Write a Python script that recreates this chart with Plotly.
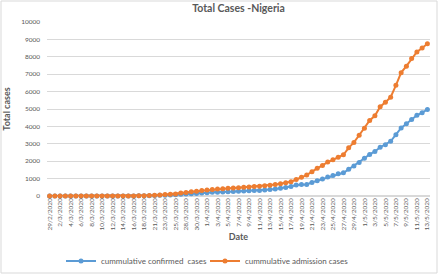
import plotly.graph_objects as go

dates = [
    "29/2/2020", "1/3/2020", "2/3/2020", "3/3/2020", "4/3/2020", "5/3/2020", "6/3/2020",
    "7/3/2020", "8/3/2020", "9/3/2020", "10/3/2020", "11/3/2020", "12/3/2020", "13/3/2020",
    "14/3/2020", "15/3/2020", "16/3/2020", "17/3/2020", "18/3/2020", "19/3/2020", "21/3/2020",
    "22/3/2020", "23/3/2020", "24/3/2020", "25/3/2020", "27/3/2020", "28/3/2020", "29/3/2020",
    "30/3/2020", "31/3/2020", "1/4/2020", "2/4/2020", "3/4/2020", "4/4/2020", "5/4/2020",
    "6/4/2020", "7/4/2020", "8/4/2020", "9/4/2020", "10/4/2020", "11/4/2020", "12/4/2020",
    "13/4/2020", "14/4/2020", "15/4/2020", "16/4/2020", "17/4/2020", "18/4/2020", "19/4/2020",
    "20/4/2020", "21/4/2020", "22/4/2020", "23/4/2020", "24/4/2020", "25/4/2020", "26/4/2020",
    "27/4/2020", "28/4/2020", "29/4/2020", "30/4/2020", "1/5/2020", "2/5/2020", "3/5/2020",
    "4/5/2020", "5/5/2020", "6/5/2020", "7/5/2020", "8/5/2020", "9/5/2020", "10/5/2020",
    "11/5/2020", "12/5/2020", "13/5/2020",
]

confirmed = [
    1, 1, 1, 1, 1, 1, 1, 1, 2, 2, 2, 2, 2, 2, 2, 2, 3, 8, 12, 12,
    30, 40, 44, 51, 65, 97, 111, 131, 139, 174,
    184, 210, 214, 232, 238, 254, 276, 288, 305, 318, 323, 343, 373, 407, 442,
    493, 542, 627, 665, 665, 782, 873, 981, 1095, 1182, 1273, 1337, 1532, 1728, 1932,
    2170, 2388, 2558, 2802, 2950, 3145, 3526, 3912, 4151, 4399, 4641, 4787, 4971,
]

admission = [
    2, 2, 2, 2, 2, 2, 2, 2, 2, 2, 2, 2, 2, 2, 2, 4, 5, 12, 20, 25,
    40, 60, 80, 100, 120, 170, 200, 240, 270, 310,
    350, 380, 400, 420, 440, 460, 480, 500, 520, 540, 560, 590, 620, 660, 700,
    760, 820, 950, 1080, 1200, 1400, 1600, 1750, 1950, 2080, 2230, 2370, 2770, 3080, 3490,
    3890, 4340, 4610, 5130, 5390, 5680, 6360, 7090, 7460, 7900, 8280, 8510, 8750,
]

tick_labels = dates[::2]

FONT = "Lato"
GREY = "#595959"

fig = go.Figure()
fig.add_trace(go.Scatter(
    x=dates, y=confirmed, mode="lines+markers",
    name="cummulative confirmed  cases",
    line=dict(color="#5B9BD5", width=2),
    marker=dict(color="#5B9BD5", size=5),
    cliponaxis=False,
))
fig.add_trace(go.Scatter(
    x=dates, y=admission, mode="lines+markers",
    name="cummulative admission cases",
    line=dict(color="#ED7D31", width=2),
    marker=dict(color="#ED7D31", size=5),
    cliponaxis=False,
))

L, R, T, B = 47, 10, 22, 80
W, H = 440, 276
pw = W - L - R
ph = H - T - B

fig.update_layout(
    width=W, height=H,
    margin=dict(l=L, r=R, t=T, b=B, autoexpand=False),
    paper_bgcolor="white", plot_bgcolor="white",
    font=dict(family=FONT, color=GREY, size=7),
    title=dict(text="<b>Total Cases -Nigeria</b>", x=0.5, xanchor="center",
               xref="paper", yref="container",
               y=1 - 8 / H, yanchor="middle", automargin=False,
               font=dict(family=FONT, size=10.5, color=GREY)),
    showlegend=True,
    legend=dict(orientation="h", x=(61 - L) / pw, xanchor="left",
                y=(196 - 261) / ph, yanchor="middle",
                font=dict(family=FONT, size=8, color=GREY),
                itemwidth=30, entrywidth=99, tracegroupgap=0,
                bgcolor="rgba(0,0,0,0)"),
    xaxis=dict(
        type="category", range=[-0.5, len(dates) - 0.5], automargin=False,
        tickmode="array", tickvals=tick_labels, ticktext=tick_labels,
        tickangle=-90, tickfont=dict(family=FONT, size=6.5, color=GREY),
        showgrid=False, zeroline=False, showline=False, ticks="",
        title=dict(text="<b>Date</b>", font=dict(family=FONT, size=9, color=GREY), standoff=4),
    ),
    yaxis=dict(
        range=[0, 10000], dtick=1000, tickformat="d", automargin=False,
        gridcolor="#D9D9D9", gridwidth=1, zeroline=True, zerolinecolor="#D9D9D9",
        showline=False, ticks="", ticklabelstandoff=6,
        tickfont=dict(family=FONT, size=6.5, color=GREY),
        title=dict(text="<b>Total cases</b>", font=dict(family=FONT, size=9, color=GREY), standoff=8),
    ),
    shapes=[dict(type="rect", xref="paper", yref="paper",
                 x0=(1 - L) / pw, x1=(437 - L) / pw,
                 y0=(196 - 273) / ph, y1=(196 - 1) / ph,
                 line=dict(color="#D9D9D9", width=1), fillcolor="rgba(0,0,0,0)")],
)

fig.write_html(
    "out.html",
    config={"displayModeBar": False},
    post_script="document.body.style.margin='0';document.body.style.overflow='hidden';",
)
